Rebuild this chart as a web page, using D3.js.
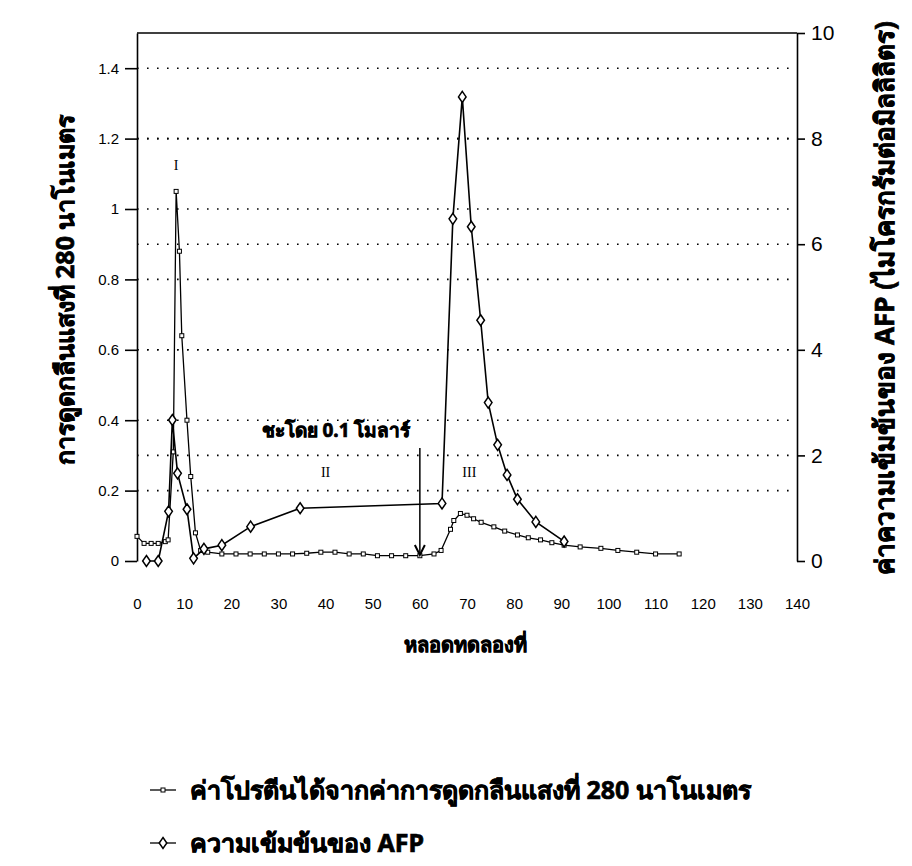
<!DOCTYPE html>
<html>
<head>
<meta charset="utf-8">
<script src="https://cdn.jsdelivr.net/npm/d3@7/dist/d3.min.js"></script>
<style>
  body { margin: 0; background: #fff; }
  svg { display: block; }
  .thai { font-family: "Noto Sans", "DejaVu Sans", sans-serif; font-weight: bold; stroke: #000; stroke-width: 0.7px; }
</style>
</head>
<body>
<script>
// Tube number and A280 absorbance (protein profile)
const proteinTube = [0, 1.5, 3, 4.5, 6, 6.6, 7.7, 8.3, 9.0, 9.5, 10.6, 11.4, 12.4, 13.5, 15,
  18, 21, 24, 27, 30, 33, 36, 39, 42, 45, 48, 51, 54, 57, 60, 63, 64.5,
  66.5, 67.2, 68.6, 70, 71.4, 73, 75.7, 78, 80.7, 83, 85.6, 88, 90.6, 94, 98.4, 102, 106, 110, 115];
const proteinA280 = [0.07, 0.05, 0.05, 0.05, 0.055, 0.06, 0.31, 1.05, 0.88, 0.64, 0.40, 0.24, 0.08, 0.03, 0.025,
  0.02, 0.02, 0.02, 0.02, 0.02, 0.02, 0.022, 0.025, 0.025, 0.02, 0.02, 0.015, 0.015, 0.015, 0.015, 0.02, 0.03,
  0.09, 0.115, 0.135, 0.13, 0.12, 0.11, 0.097, 0.085, 0.074, 0.066, 0.06, 0.052, 0.045, 0.04, 0.036, 0.03, 0.025, 0.02, 0.02];

// Tube number and AFP concentration (µg/ml)
const afpTube = [2, 4.5, 6.7, 7.5, 8.6, 10.6, 12, 14.2, 18, 24.1, 34.6, 64.7,
  67, 69, 70.9, 72.9, 74.5, 76.5, 78.5, 80.7, 84.6, 90.6];
const afpConc = [0, 0, 0.94, 2.67, 1.66, 0.98, 0.05, 0.23, 0.3, 0.65, 1.0, 1.09,
  6.48, 8.79, 6.33, 4.56, 3.0, 2.2, 1.63, 1.17, 0.74, 0.37];

// Axis ticks
const xTicks = [0, 10, 20, 30, 40, 50, 60, 70, 80, 90, 100, 110, 120, 130, 140];
const leftTicks = [0, 0.2, 0.4, 0.6, 0.8, 1, 1.2, 1.4];
const rightTicks = [0, 2, 4, 6, 8, 10];

// Text
const xTitle = "หลอดทดลองที่";
const leftTitle = "การดูดกลืนแสงที่ 280 นาโนเมตร";
const rightTitle = "ค่าความเข้มข้นของ AFP (ไมโครกรัมต่อมิลลิลิตร)";
const legendLabels = ["ค่าโปรตีนได้จากค่าการดูดกลืนแสงที่ 280 นาโนเมตร", "ความเข้มข้นของ  AFP"];
const elutionLabel = "ชะโดย 0.1 โมลาร์";
const elutionTube = 60;
const peakLabels = [{ text: "I", tube: 8.3, value: 1.11 }, { text: "II", tube: 40, value: 0.24 }, { text: "III", tube: 70.5, value: 0.24 }];

const W = 912, H = 866;
const svg = d3.select("body").append("svg").attr("width", W).attr("height", H);

const x = d3.scaleLinear().domain([0, 140]).range([137, 797]);
const yL = d3.scaleLinear().domain([0, 1.5]).range([561, 33]);
const yR = d3.scaleLinear().domain([0, 10]).range([561, 33]);

// dotted gridlines at both axes' ticks
const grid = svg.append("g");
leftTicks.filter(d => d > 0).forEach(d => {
  grid.append("line").attr("x1", x(0)).attr("x2", x(140)).attr("y1", yL(d)).attr("y2", yL(d))
    .attr("stroke", "#000").attr("stroke-width", 1.6).attr("stroke-dasharray", "1.6,8.4");
});
rightTicks.filter(d => d > 0 && d < 10).forEach(d => {
  grid.append("line").attr("x1", x(0)).attr("x2", x(140)).attr("y1", yR(d)).attr("y2", yR(d))
    .attr("stroke", "#000").attr("stroke-width", 1.6).attr("stroke-dasharray", "1.6,8.4");
});

// frame top
svg.append("line").attr("x1", x(0)).attr("x2", x(140)).attr("y1", 33).attr("y2", 33)
  .attr("stroke", "#000").attr("stroke-width", 1.6);

// left axis
const gL = svg.append("g").attr("transform", `translate(${x(0)},0)`)
  .call(d3.axisLeft(yL).tickValues(leftTicks).tickSize(12).tickSizeOuter(0).tickPadding(6)
    .tickFormat(d => d3.format("~g")(d)));
gL.selectAll("text").attr("font-family", "Liberation Sans, Arial, sans-serif").attr("font-size", 15);
gL.selectAll("line,path").attr("stroke-width", 1.6);

// right axis
const gR = svg.append("g").attr("transform", `translate(${x(140)},0)`)
  .call(d3.axisRight(yR).tickValues(rightTicks).tickSize(8).tickSizeOuter(0).tickPadding(6));
gR.selectAll("text").attr("font-family", "Liberation Sans, Arial, sans-serif").attr("font-size", 21);
gR.selectAll("line,path").attr("stroke-width", 1.6);

// bottom tick labels
const gX = svg.append("g").attr("transform", `translate(0,594)`)
  .call(d3.axisBottom(x).tickValues(xTicks).tickSize(0).tickPadding(4));
gX.select(".domain").remove();
gX.selectAll("text").attr("font-family", "Liberation Sans, Arial, sans-serif").attr("font-size", 15);

// titles
svg.append("text").attr("class", "thai").attr("x", 465).attr("y", 652).attr("text-anchor", "middle")
  .attr("font-size", 20).text(xTitle);
svg.append("text").attr("class", "thai").attr("transform", "translate(74,290) rotate(-90)")
  .attr("text-anchor", "middle").attr("font-size", 25).text(leftTitle);
svg.append("text").attr("class", "thai").attr("transform", "translate(894,298) rotate(-90)")
  .attr("text-anchor", "middle").attr("font-size", 26).text(rightTitle);

// protein line
svg.append("path").datum(proteinTube.map((t, i) => [t, proteinA280[i]]))
  .attr("fill", "none").attr("stroke", "#000").attr("stroke-width", 1.3)
  .attr("d", d3.line().x(d => x(d[0])).y(d => yL(d[1])));
svg.append("g").selectAll("rect").data(proteinTube.map((t, i) => [t, proteinA280[i]])).join("rect")
  .attr("x", d => x(d[0]) - 2).attr("y", d => yL(d[1]) - 2).attr("width", 4).attr("height", 4)
  .attr("fill", "#fff").attr("stroke", "#000").attr("stroke-width", 1);

// AFP line
const diamond = "M0,-5.5L3.8,0L0,5.5L-3.8,0Z";
svg.append("path").datum(afpTube.map((t, i) => [t, afpConc[i]]))
  .attr("fill", "none").attr("stroke", "#000").attr("stroke-width", 1.6)
  .attr("d", d3.line().x(d => x(d[0])).y(d => yR(d[1])));
svg.append("g").selectAll("path").data(afpTube.map((t, i) => [t, afpConc[i]])).join("path")
  .attr("transform", d => `translate(${x(d[0])},${yR(d[1])})`).attr("d", diamond)
  .attr("fill", "#fff").attr("stroke", "#000").attr("stroke-width", 1.5);

// peak labels
peakLabels.forEach(p => {
  svg.append("text").attr("x", x(p.tube)).attr("y", yL(p.value)).attr("text-anchor", "middle")
    .attr("font-family", "Liberation Serif, serif").attr("font-size", 14).text(p.text);
});

// elution marker
svg.append("text").attr("class", "thai").attr("x", 336).attr("y", 437).attr("text-anchor", "middle")
  .attr("font-size", 19).text(elutionLabel);
const ax = x(elutionTube);
svg.append("line").attr("x1", ax).attr("x2", ax).attr("y1", 448).attr("y2", 553)
  .attr("stroke", "#000").attr("stroke-width", 1.5);
svg.append("path").attr("d", `M${ax - 5},${545}L${ax},${555}L${ax + 5},${545}`)
  .attr("fill", "none").attr("stroke", "#000").attr("stroke-width", 2);

// legend
const lg = svg.append("g");
lg.append("line").attr("x1", 150).attr("x2", 176).attr("y1", 790).attr("y2", 790).attr("stroke", "#000").attr("stroke-width", 1.3);
lg.append("rect").attr("x", 161).attr("y", 788).attr("width", 4).attr("height", 4).attr("fill", "#fff").attr("stroke", "#000");
lg.append("text").attr("class", "thai").attr("x", 190).attr("y", 799).attr("font-size", 25).text(legendLabels[0]);
lg.append("line").attr("x1", 150).attr("x2", 176).attr("y1", 843).attr("y2", 843).attr("stroke", "#000").attr("stroke-width", 1.3);
lg.append("path").attr("transform", "translate(163,843)").attr("d", diamond).attr("fill", "#fff").attr("stroke", "#000").attr("stroke-width", 1.5);
lg.append("text").attr("class", "thai").attr("x", 190).attr("y", 852).attr("font-size", 25).text(legendLabels[1]);
</script>
</body>
</html>
